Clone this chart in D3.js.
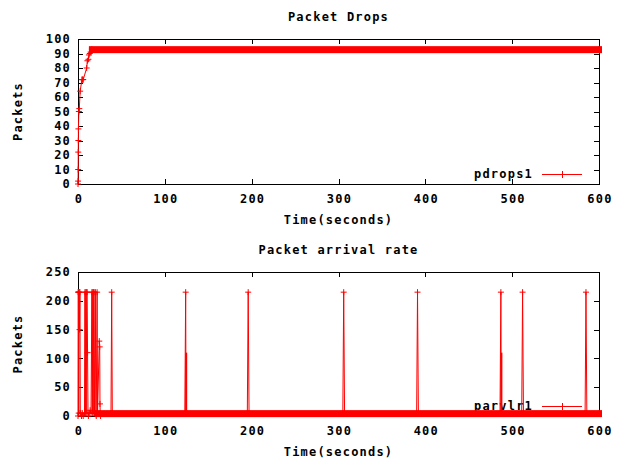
<!DOCTYPE html>
<html>
<head>
<meta charset="utf-8">
<script src="https://cdn.jsdelivr.net/npm/d3@7"></script>
<style>
  body { margin: 0; background: #fff; }
  svg text { font-family: "DejaVu Sans Mono", monospace; font-size: 12px; font-weight: bold; letter-spacing: 1.2px; fill: #000; }
</style>
</head>
<body>
<svg id="chart" width="624" height="458"></svg>
<script>
// --- Packet Drops (pdrops1) ---
const dropTimes  = [0, 0.1, 0.2, 0.3, 0.4, 0.5, 1, 1.5, 2.5, 4.5, 5, 5.5, 6, 10, 10.8, 12, 12.6, 13.6, 14.6, 16, 600];
const dropValues = [0, 2, 10, 22, 30, 38, 50, 52, 64, 72, 72, 72, 72, 80, 85, 86, 89, 90, 91, 93, 93];
// dense run of samples that merges into a solid band of markers
const dropBandTimes = [16, 600];
const dropBandValue = 93;

// --- Packet arrival rate (parvlr1) ---
const arrivalTimes = [
  0, 0.2, 0.5, 0.8, 1.1, 1.4, 1.8, 2.2, 2.6, 3.2, 4, 5, 6, 7.5,
  8, 8.5, 9, 9.5, 10, 10.5, 11, 11.5, 12, 13, 14, 15,
  16, 16.5, 17, 17.5, 18, 18.5, 19, 20, 20.5, 21, 22, 22.5, 24.5, 25, 25.3, 25.6, 26,
  38, 38.8, 39.5,
  123, 124, 124.4, 124.8, 125.4,
  195, 196, 197,
  305, 306, 307,
  390, 391, 392,
  486, 487, 487.4, 487.8, 488.4,
  511, 512, 513,
  584, 585, 586,
  600
];
const arrivalValues = [
  0, 215, 215, 5, 215, 215, 150, 215, 5, 5, 0, 5, 0, 5,
  215, 5, 215, 5, 215, 215, 110, 5, 0, 5, 10, 5,
  215, 5, 215, 5, 215, 215, 5, 215, 5, 0, 215, 5, 130, 120, 21, 5, 0,
  5, 215, 5,
  5, 215, 5, 5, 5,
  5, 215, 5,
  5, 215, 5,
  5, 215, 5,
  5, 215, 5, 5, 5,
  5, 215, 5,
  5, 215, 5,
  5
];
// the lower, heavier stroke next to two of the late spikes
const arrivalHalfSpikes = [[124.6, 110], [487.6, 110]];
const arrivalBandTimes = [23, 600];
const arrivalBandValue = 5;

const xTicks = [0, 100, 200, 300, 400, 500, 600];
const dropYTicks = [0, 10, 20, 30, 40, 50, 60, 70, 80, 90, 100];
const arrivalYTicks = [0, 50, 100, 150, 200, 250];

const red = '#ff0000';
const svg = d3.select('#chart');
const left = 78, right = 599;
const markSize = 3;
const tickLen = 5;

function drawPanel(cfg) {
  const g = svg.append('g');
  const x = d3.scaleLinear().domain([0, 600]).range([left, right]);
  const y = d3.scaleLinear().domain(cfg.yDomain).range([cfg.bottom, cfg.top]);

  g.append('text')
    .attr('x', (left + right) / 2).attr('y', cfg.top - 22)
    .attr('dy', '0.35em').attr('text-anchor', 'middle')
    .text(cfg.title);

  g.append('text')
    .attr('x', (left + right) / 2).attr('y', cfg.bottom + 36)
    .attr('dy', '0.35em').attr('text-anchor', 'middle')
    .text('Time(seconds)');

  g.append('text')
    .attr('transform', `translate(18,${(cfg.top + cfg.bottom) / 2}) rotate(-90)`)
    .attr('dy', '0.35em').attr('text-anchor', 'middle')
    .text('Packets');

  // tick labels
  g.selectAll('.xl').data(xTicks).enter().append('text')
    .attr('x', d => x(d) + 1).attr('y', cfg.bottom + 15)
    .attr('dy', '0.35em').attr('text-anchor', 'middle')
    .text(d => d);
  g.selectAll('.yl').data(cfg.yTicks).enter().append('text')
    .attr('x', left - 7).attr('y', d => y(d))
    .attr('dy', '0.35em').attr('text-anchor', 'end')
    .text(d => d);

  // border and mirrored inward ticks
  g.append('rect')
    .attr('x', left + 0.5).attr('y', cfg.top + 0.5)
    .attr('width', right - left).attr('height', cfg.bottom - cfg.top)
    .attr('fill', 'none').attr('stroke', '#000');
  const ticks = g.append('g').attr('stroke', '#000').attr('shape-rendering', 'crispEdges');
  xTicks.slice(1, -1).forEach(d => {
    ticks.append('line').attr('x1', x(d) + 0.5).attr('x2', x(d) + 0.5).attr('y1', cfg.bottom).attr('y2', cfg.bottom - tickLen);
    ticks.append('line').attr('x1', x(d) + 0.5).attr('x2', x(d) + 0.5).attr('y1', cfg.top).attr('y2', cfg.top + tickLen);
  });
  cfg.yTicks.slice(1, -1).forEach(d => {
    ticks.append('line').attr('x1', left).attr('x2', left + tickLen).attr('y1', y(d) + 0.5).attr('y2', y(d) + 0.5);
    ticks.append('line').attr('x1', right).attr('x2', right - tickLen).attr('y1', y(d) + 0.5).attr('y2', y(d) + 0.5);
  });

  // key
  const ky = cfg.bottom - 10;
  g.append('text')
    .attr('x', 533).attr('y', ky)
    .attr('dy', '0.35em').attr('text-anchor', 'end')
    .text(cfg.name);
  g.append('line').attr('x1', 542).attr('x2', 582).attr('y1', ky + 0.5).attr('y2', ky + 0.5)
    .attr('stroke', red);
  g.append('path').attr('d', `M562.5,${ky - markSize}V${ky + markSize + 1}`).attr('stroke', red);

  // data
  const pts = cfg.times.map((t, i) => [t, cfg.values[i]]);
  const line = d3.line().x(d => x(d[0])).y(d => y(d[1]));
  g.append('path').datum(pts)
    .attr('d', line).attr('fill', 'none').attr('stroke', red).attr('stroke-width', 1);

  (cfg.halfSpikes || []).forEach(d => {
    g.append('line')
      .attr('x1', x(d[0])).attr('x2', x(d[0]))
      .attr('y1', y(cfg.bandValue)).attr('y2', y(d[1]))
      .attr('stroke', red).attr('stroke-width', 2);
  });

  g.selectAll('.pt').data(pts).enter().append('path')
    .attr('d', d => `M${x(d[0]) - markSize},${y(d[1])}H${x(d[0]) + markSize}M${x(d[0])},${y(d[1]) - markSize}V${y(d[1]) + markSize}`)
    .attr('stroke', red).attr('fill', 'none');

  g.append('rect')
    .attr('x', x(cfg.bandTimes[0]) - markSize)
    .attr('y', y(cfg.bandValue) - markSize)
    .attr('width', x(cfg.bandTimes[1]) - x(cfg.bandTimes[0]) + 2 * markSize)
    .attr('height', 2 * markSize + 1)
    .attr('fill', red);
}

drawPanel({
  title: 'Packet Drops', name: 'pdrops1',
  top: 39, bottom: 184, yDomain: [0, 100], yTicks: dropYTicks,
  times: dropTimes, values: dropValues,
  bandTimes: dropBandTimes, bandValue: dropBandValue
});

drawPanel({
  title: 'Packet arrival rate', name: 'parvlr1',
  top: 272, bottom: 416, yDomain: [0, 250], yTicks: arrivalYTicks,
  times: arrivalTimes, values: arrivalValues, halfSpikes: arrivalHalfSpikes,
  bandTimes: arrivalBandTimes, bandValue: arrivalBandValue
});
</script>
</body>
</html>
